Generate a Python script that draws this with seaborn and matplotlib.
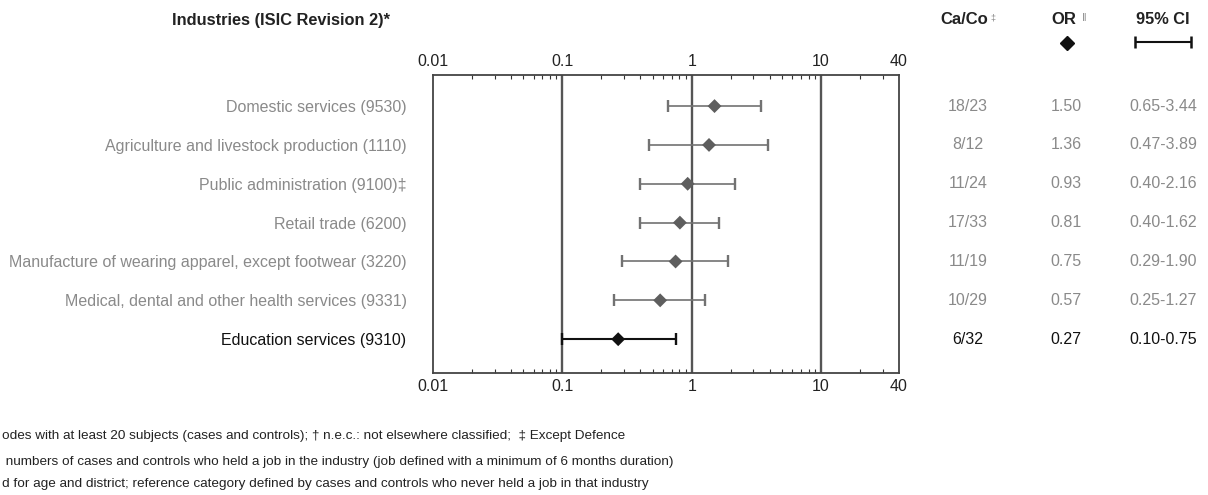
import numpy as np
import pandas as pd
import seaborn as sns
import matplotlib
matplotlib.use("Agg")
import matplotlib.pyplot as plt
from matplotlib.transforms import blended_transform_factory
from matplotlib.ticker import FixedLocator, NullFormatter, LogLocator

# ---- data ----
industries = [
    "Domestic services (9530)",
    "Agriculture and livestock production (1110)",
    "Public administration (9100)\u2021",
    "Retail trade (6200)",
    "Manufacture of wearing apparel, except footwear (3220)",
    "Medical, dental and other health services (9331)",
    "Education services (9310)",
]
ca_co = ["18/23", "8/12", "11/24", "17/33", "11/19", "10/29", "6/32"]
odds_ratio = [1.50, 1.36, 0.93, 0.81, 0.75, 0.57, 0.27]
ci_low = [0.65, 0.47, 0.40, 0.40, 0.29, 0.25, 0.10]
ci_high = [3.44, 3.89, 2.16, 1.62, 1.90, 1.27, 0.75]
significant = [False, False, False, False, False, False, True]

x_ticks = [0.01, 0.1, 1, 10, 40]
x_tick_labels = ["0.01", "0.1", "1", "10", "40"]

footnotes = [
    "odes with at least 20 subjects (cases and controls); \u2020 n.e.c.: not elsewhere classified;  \u2021 Except Defence",
    " numbers of cases and controls who held a job in the industry (job defined with a minimum of 6 months duration)",
    "d for age and district; reference category defined by cases and controls who never held a job in that industry",
]

df = pd.DataFrame({
    "industry": industries,
    "or": odds_ratio,
    "lo": ci_low,
    "hi": ci_high,
    "sig": significant,
})
df["row"] = np.arange(len(df))

sns.set_theme(style="white")
plt.rcParams["font.family"] = ["Liberation Sans", "DejaVu Sans"]

W, H = 1208, 495
fig = plt.figure(figsize=(W / 100, H / 100), dpi=100)
ax = fig.add_axes([433 / W, 1 - 373 / H, (899 - 433) / W, (373 - 75) / H])

GRAY_TXT = "#8a8a8a"
GRAY_BAR = "#727272"
BLACK = "#111111"

ax.set_xscale("log")
ax.set_xlim(0.01, 40)
ax.set_ylim(len(df) - 1 + 0.87, -0.8)

# reference lines at each decade
for gx in [0.1, 1, 10]:
    ax.axvline(gx, color="#555555", lw=1.7, zorder=1)

# confidence intervals
for _, r in df.iterrows():
    col = BLACK if r["sig"] else GRAY_BAR
    ax.errorbar(r["or"], r["row"],
                xerr=[[r["or"] - r["lo"]], [r["hi"] - r["or"]]],
                fmt="none", ecolor=col, elinewidth=1.5 if r["sig"] else 1.2,
                capsize=4.5, capthick=1.7, zorder=2)

# point estimates
pal = {False: "#5e5e5e", True: BLACK}
sns.scatterplot(data=df, x="or", y="row", hue="sig", palette=pal,
                marker="D", s=50, edgecolor="none", legend=False, ax=ax, zorder=3)

ax.set_xlabel("")
ax.set_ylabel("")

# y labels = industries
ax.set_yticks(df["row"])
ax.set_yticklabels(df["industry"])
for lab, sig in zip(ax.get_yticklabels(), df["sig"]):
    lab.set_color(BLACK if sig else GRAY_TXT)
    lab.set_fontsize(11.5)
ax.tick_params(axis="y", length=0, pad=19)

# x ticks top and bottom
ax.xaxis.set_major_locator(FixedLocator(x_ticks))
ax.set_xticklabels(x_tick_labels)
ax.xaxis.set_minor_locator(LogLocator(base=10, subs=np.arange(2, 10), numticks=20))
ax.xaxis.set_minor_formatter(NullFormatter())
ax.tick_params(axis="x", which="both", top=True, bottom=True, labeltop=True,
               labelbottom=True, direction="in", colors="#333333",
               labelcolor="#222222", labelsize=11.5, pad=4)
ax.tick_params(axis="x", which="major", length=0)
ax.tick_params(axis="x", which="minor", length=3, width=0.8)

for sp in ax.spines.values():
    sp.set_visible(True)
    sp.set_color("#444444")
    sp.set_linewidth(1.3)

# table columns
tr = blended_transform_factory(fig.transFigure, ax.transData)
col_x = {"caco": 968 / W, "or": 1066 / W, "ci": 1163 / W}
for _, r in df.iterrows():
    col = BLACK if r["sig"] else GRAY_TXT
    i = r["row"]
    ax.text(col_x["caco"], i, ca_co[i], transform=tr, ha="center", va="center",
            fontsize=11.5, color=col)
    ax.text(col_x["or"], i, f"{r['or']:.2f}", transform=tr, ha="center",
            va="center", fontsize=11.5, color=col)
    ax.text(col_x["ci"], i, f"{r['lo']:.2f}-{r['hi']:.2f}", transform=tr,
            ha="center", va="center", fontsize=11.5, color=col)

# headers
fig.text(281 / W, 1 - 20 / H, "Industries (ISIC Revision 2)*", ha="center",
         va="center", fontsize=11.8, fontweight="bold", color="#222222")
fig.text(964 / W, 1 - 20 / H, "Ca/Co", ha="center", va="center",
         fontsize=12, fontweight="bold", color="#222222")
fig.text(993 / W, 1 - 18 / H, "\u2021", ha="center", va="center",
         fontsize=6.5, color="#888888")
fig.text(1064 / W, 1 - 20 / H, "OR", ha="center", va="center",
         fontsize=12, fontweight="bold", color="#222222")
fig.text(1084 / W, 1 - 18 / H, "\u2016", ha="center", va="center",
         fontsize=8, color="#888888")
fig.text(1163 / W, 1 - 20 / H, "95% CI", ha="center", va="center",
         fontsize=11.8, fontweight="bold", color="#222222")

# header symbols: diamond and interval
hx = fig.add_axes([0, 0, 1, 1], facecolor="none")
hx.set_xlim(0, W)
hx.set_ylim(H, 0)
hx.axis("off")
hx.plot([1067], [43], marker="D", ms=7, color=BLACK, ls="none")
hx.errorbar([1163], [42], xerr=[[28], [28]], fmt="none", ecolor=BLACK,
            elinewidth=1.5, capsize=4.5, capthick=1.8)

# footnotes
for yy, txt in zip([436, 462, 484], footnotes):
    fig.text(2 / W, 1 - yy / H, txt, ha="left", va="center", fontsize=9.7,
             color="#222222")

fig.savefig("out.png", dpi=100)
